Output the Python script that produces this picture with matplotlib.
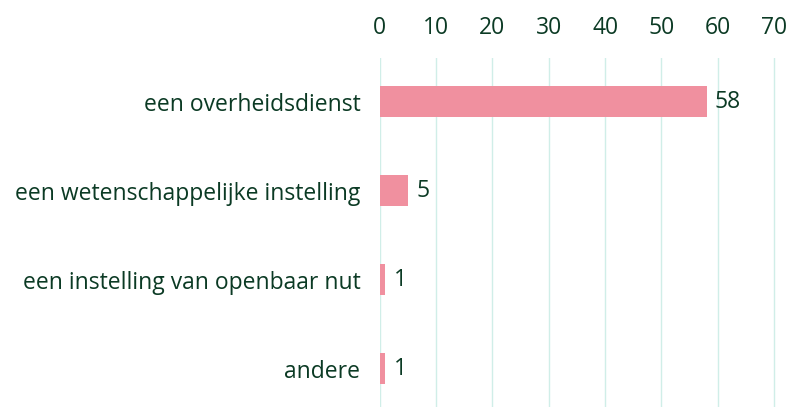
import matplotlib.pyplot as plt

categories = ['een overheidsdienst', 'een wetenschappelijke instelling',
              'een instelling van openbaar nut', 'andere']
values = [58, 5, 1, 1]
ticks = [0, 10, 20, 30, 40, 50, 60, 70]

text_color = '#0b3a24'
bar_color = '#f0909f'
grid_color = '#d0eee8'

plt.rcParams['font.family'] = ['Open Sans', 'DejaVu Sans']

fig = plt.figure(figsize=(7.88, 4.07), dpi=100)
ax = fig.add_axes([0.482, 0.0, 0.5025, 0.857])

y = list(range(len(categories)))
ax.barh(y, values, height=0.35, color=bar_color, zorder=3)
for yi, v in zip(y, values):
    ax.text(v + 1.5, yi, str(v), va='center', ha='left', fontsize=16.5,
            color=text_color, fontweight='medium')

ax.set_xlim(0, 70.3)
ax.set_ylim(3.43, -0.49)
ax.set_xticks(ticks)
ax.set_yticks(y)
ax.set_yticklabels(categories)
ax.xaxis.tick_top()
ax.tick_params(axis='x', length=0, pad=13, labelsize=16.5, labelcolor=text_color)
ax.tick_params(axis='y', length=0, pad=14, labelsize=16.5, labelcolor=text_color)
for lbl in ax.get_xticklabels() + ax.get_yticklabels():
    lbl.set_fontweight('medium')
ax.grid(axis='x', color=grid_color, linewidth=1, zorder=0)
for s in ax.spines.values():
    s.set_visible(False)

plt.savefig('out.png', dpi=100)
